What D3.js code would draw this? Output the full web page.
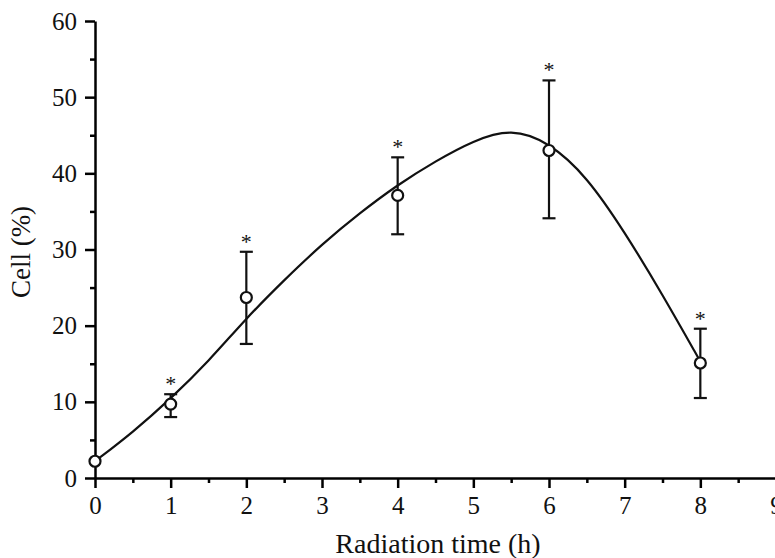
<!DOCTYPE html>
<html>
<head>
<meta charset="utf-8">
<script src="https://cdn.jsdelivr.net/npm/d3@7"></script>
<style>
    body { margin: 0; background: #fff; }
    text { font-family: 'Liberation Serif', 'Times New Roman', serif; fill: #111; }
</style>
</head>
<body>
<div id="main"></div>
<script>
// measured points (mean and error bar ends)
const times = [0, 1, 2, 4, 6, 8];
const cellPct = [2.2, 9.7, 23.7, 37.1, 43.0, 15.1];
const errHigh = [null, 11.0, 29.7, 42.1, 52.2, 19.6];
const errLow = [null, 8.0, 17.6, 32.0, 34.1, 10.5];
const significant = [false, true, true, true, true, true];

// fitted curve
const curveX = [0, 0.5, 1, 1.5, 2, 2.5, 3, 3.5, 4, 4.5, 5, 5.5, 6, 6.5, 7, 7.5, 8];
const curveY = [2.2, 6.0, 10.4, 15.3, 21.0, 26.0, 30.7, 34.8, 38.5, 41.6, 44.3, 45.9, 44.1, 39.6, 32.3, 24.1, 15.3];

const xTicks = [0, 1, 2, 3, 4, 5, 6, 7, 8, 9];
const yTicks = [0, 10, 20, 30, 40, 50, 60];

const width = 775, height = 558;
const margin = { top: 21, left: 95, right: -1, bottom: 80 };
const markWidth = width - margin.left - margin.right;
const markHeight = height - margin.top - margin.bottom;

const svg = d3.select('#main').append('svg').attr('width', width).attr('height', height);

const xScale = d3.scaleLinear().domain([0, 9]).range([0, markWidth]);
const yScale = d3.scaleLinear().domain([0, 60]).range([markHeight, 0]);

const g = svg.append('g').attr('transform', `translate(${margin.left},${margin.top})`);

// minor ticks
g.append('g')
    .attr('transform', `translate(0,${markHeight})`)
    .call(d3.axisBottom(xScale).tickValues(d3.range(0.5, 9, 1)).tickSize(5).tickFormat(''))
    .call(a => a.select('.domain').remove())
    .call(a => a.selectAll('line').attr('stroke-width', 2.5));
g.append('g')
    .call(d3.axisLeft(yScale).tickValues(d3.range(5, 60, 10)).tickSize(5).tickFormat(''))
    .call(a => a.select('.domain').remove())
    .call(a => a.selectAll('line').attr('stroke-width', 2.5));

// major axes
g.append('g')
    .attr('transform', `translate(0,${markHeight})`)
    .call(d3.axisBottom(xScale).tickValues(xTicks).tickSize(10).tickSizeOuter(0).tickPadding(8))
    .call(a => a.select('.domain').attr('stroke-width', 2.5))
    .call(a => a.selectAll('line').attr('stroke-width', 2.5))
    .call(a => a.selectAll('text').style('font-size', '25px').attr('fill', '#111'));
g.append('g')
    .call(d3.axisLeft(yScale).tickValues(yTicks).tickSize(10).tickSizeOuter(0).tickPadding(8))
    .call(a => a.select('.domain').attr('stroke-width', 2.5))
    .call(a => a.selectAll('line').attr('stroke-width', 2.5))
    .call(a => a.selectAll('text').style('font-size', '25px').attr('fill', '#111'));

// fitted curve
const line = d3.line()
    .x(i => xScale(curveX[i]))
    .y(i => yScale(curveY[i]))
    .curve(d3.curveBasis);
g.append('path')
    .attr('d', line(d3.range(curveX.length)))
    .attr('fill', 'none')
    .attr('stroke', '#111')
    .attr('stroke-width', 2.2);

// error bars
const idx = d3.range(times.length).filter(i => errHigh[i] !== null);
const bars = g.append('g').attr('stroke', '#111').attr('stroke-width', 2.2);
idx.forEach(i => {
    const cx = xScale(times[i]);
    bars.append('line').attr('x1', cx).attr('x2', cx).attr('y1', yScale(errHigh[i])).attr('y2', yScale(errLow[i]));
    bars.append('line').attr('x1', cx - 6.5).attr('x2', cx + 6.5).attr('y1', yScale(errHigh[i])).attr('y2', yScale(errHigh[i]));
    bars.append('line').attr('x1', cx - 6.5).attr('x2', cx + 6.5).attr('y1', yScale(errLow[i])).attr('y2', yScale(errLow[i]));
});

// points
g.selectAll('.pt')
    .data(d3.range(times.length))
    .enter()
    .append('circle')
        .attr('class', 'pt')
        .attr('cx', i => xScale(times[i]))
        .attr('cy', i => yScale(cellPct[i]))
        .attr('r', 5.5)
        .attr('fill', '#fff')
        .attr('stroke', '#111')
        .attr('stroke-width', 2.2);

// significance marks
g.selectAll('.star')
    .data(idx.filter(i => significant[i]))
    .enter()
    .append('text')
        .attr('class', 'star')
        .attr('x', i => xScale(times[i]))
        .attr('y', i => yScale(errHigh[i]) - 3)
        .style('font-size', '22px')
        .style('text-anchor', 'middle')
        .text('*');

// axis titles
svg.append('text')
    .attr('x', 438)
    .attr('y', 553)
    .style('font-size', '28px')
    .style('text-anchor', 'middle')
    .text('Radiation time (h)');

svg.append('text')
    .attr('x', 30)
    .attr('y', 252)
    .style('font-size', '27px')
    .style('text-anchor', 'middle')
    .attr('transform', 'rotate(-90,30,252)')
    .text('Cell (%)');
</script>
</body>
</html>
